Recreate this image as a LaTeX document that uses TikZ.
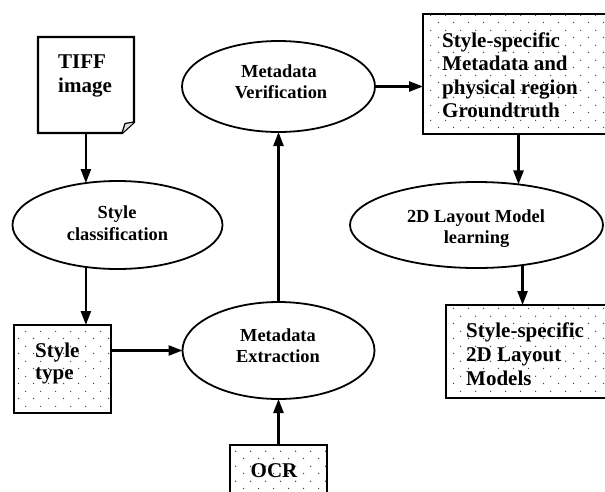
\documentclass[tikz,border=0pt]{standalone}
\usepackage{fontspec}
\setmainfont{Liberation Serif}
\usetikzlibrary{shapes.geometric,arrows.meta,patterns.meta}

% sparse staggered dot fill used for the data boxes
\tikzdeclarepattern{
  name=sparsedots,
  type=uncolored,
  bounding box={(0pt,0pt) and (15pt,15pt)},
  tile size={(15pt,15pt)},
  code={
    \pgfpathcircle{\pgfpoint{3.75pt}{3.75pt}}{0.75pt}
    \pgfpathcircle{\pgfpoint{11.25pt}{11.25pt}}{0.75pt}
    \pgfusepath{fill}
  }
}

\begin{document}
\begin{tikzpicture}[x=1pt, y=-1pt,
  ellnode/.style={draw, ellipse, line width=1.8pt, inner sep=0pt, outer sep=0pt},
  dotbox/.style={draw, rectangle, line width=2.4pt, pattern=sparsedots,
                 pattern color=black!75, inner sep=0pt, outer sep=0pt},
  arr/.style={line width=2.4pt, -{Triangle[length=14pt,width=10pt]}},
  big/.style={font=\fontsize{21}{24}\selectfont\bfseries, inner sep=0pt, anchor=base west},
  small/.style={font=\fontsize{18.4}{21}\selectfont\bfseries, inner sep=0pt, anchor=base},
]
\useasboundingbox (0,0) rectangle (605,491);
\fill[white] (0,0) rectangle (605,491);
\clip (0,0) rectangle (605,491);

% ---- shapes ----
\node[minimum width=96pt, minimum height=96pt, inner sep=0pt, outer sep=0pt] (tiff) at (86,85) {};
\node[ellnode, minimum width=210pt, minimum height=88pt] (sc) at (117.5,225) {};
\node[dotbox, minimum width=97pt, minimum height=88pt] (st) at (62.5,369) {};
\node[ellnode, minimum width=193pt, minimum height=91pt] (mv) at (278.5,86.5) {};
\node[ellnode, minimum width=192pt, minimum height=97pt] (me) at (278.5,350.5) {};
\node[dotbox, minimum width=190pt, minimum height=120pt] (gt) at (518,74) {};
\node[ellnode, minimum width=253pt, minimum height=86pt] (lm) at (476.5,225) {};
\node[dotbox, minimum width=165pt, minimum height=93pt] (mdl) at (528.5,351.5) {};
\node[dotbox, minimum width=97pt, minimum height=70pt] (ocr) at (278.5,480) {};

% document outline with folded corner
\draw[line width=2.4pt, line join=miter]
  ([yshift=11pt]tiff.south east) -- (tiff.north east) -- (tiff.north west)
  -- (tiff.south west) -- ([xshift=-12pt]tiff.south east) -- cycle;
\filldraw[fill=black!12, line width=1.2pt, line join=round]
  ([xshift=-12pt]tiff.south east) -- ([xshift=-9pt,yshift=9.5pt]tiff.south east)
  -- ([yshift=11pt]tiff.south east);

% ---- labels ----
\node[big] (ttiffa) at (58,68) {TIFF};
\node[big] (ttiffb) at (58,92) {image};

\node[small] (tsca) at (117,218) {Style};
\node[small] (tscb) at (117.5,240) {classification};

\node[big] (tsta) at (35,357) {Style};
\node[big] (tstb) at (35,379) {type};

\node[small] (tmva) at (279,77) {Metadata};
\node[small] (tmvb) at (281,98) {Verification};

\node[small] (tmea) at (278,341) {Metadata};
\node[small] (tmeb) at (278,362) {Extraction};

\node[big] (tgta) at (442,47) {Style-specific};
\node[big] (tgtb) at (442,70.5) {Metadata and};
\node[big] (tgtc) at (442,94) {physical region};
\node[big] (tgtd) at (442,117) {Groundtruth};

\node[small] (tlma) at (476,222) {2D Layout Model};
\node[small] (tlmb) at (476.5,243) {learning};

\node[big] (tmda) at (466,337) {Style-specific};
\node[big] (tmdb) at (466,361) {2D Layout};
\node[big] (tmdc) at (466,385) {Models};

\node[big, anchor=base] (tocr) at (274,477) {OCR};

% ---- connectors ----
\draw[arr] (tiff.south -| sc.127) -- (sc.127);
\draw[arr] (sc.-127) -- (sc.-127 |- st.north);
\draw[arr] (me.west -| st.east) -- (me.west);
\draw[arr] (ocr.north) -- (me.south);
\draw[arr] (me.north) -- (mv.south);
\draw[arr] (mv.east) -- (mv.east -| gt.west);
\draw[arr] (gt.south -| lm.44) -- (lm.44);
\draw[arr] (lm.-41) -- (lm.-41 |- mdl.north);
\end{tikzpicture}
\end{document}
